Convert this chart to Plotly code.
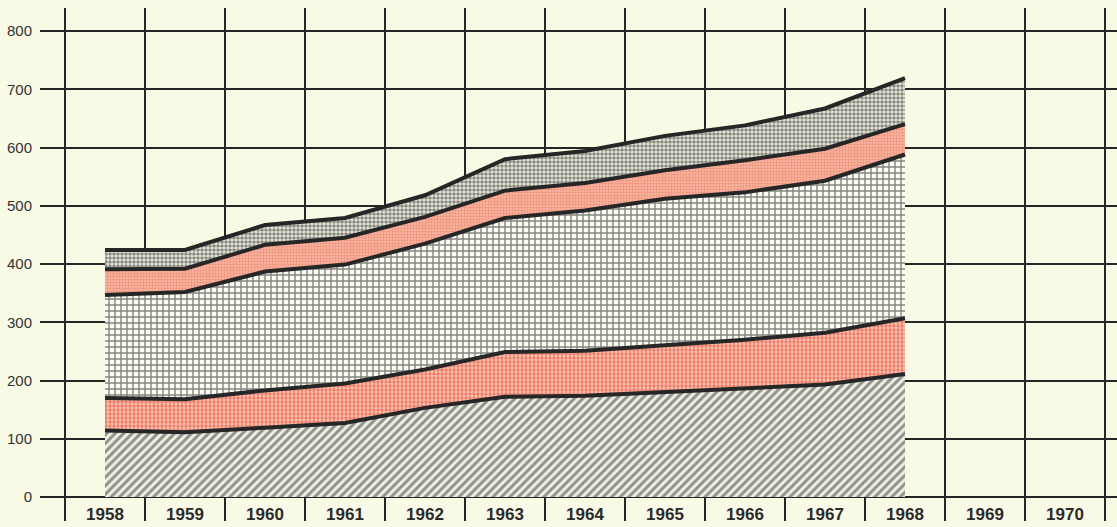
"""Stacked area chart, 1958-1968, five patterned layers on a cream grid."""

import plotly.graph_objects as go

_BG = "#F9FAE6"
_INK = "#262626"

years = [1958, 1959, 1960, 1961, 1962, 1963, 1964, 1965, 1966, 1967, 1968]
axis_years = [1958, 1959, 1960, 1961, 1962, 1963, 1964, 1965, 1966, 1967, 1968, 1969, 1970]

# layer thickness, bottom to top
layer_hatch = [114, 111, 119, 127, 153, 172, 174, 180, 186, 193, 211]
layer_red = [56, 57, 64, 68, 66, 77, 77, 80, 84, 89, 96]
layer_grid = [177, 184, 204, 204, 216, 230, 241, 252, 253, 261, 281]
layer_salmon = [44, 40, 46, 46, 46, 47, 47, 49, 55, 55, 52]
layer_dots = [33, 32, 34, 34, 37, 54, 55, 59, 60, 69, 79]

y_ticks = [0, 100, 200, 300, 400, 500, 600, 700, 800]

layers = [
    (layer_hatch, dict(shape="/", fgcolor="#333333", bgcolor="#EFEFE4", size=6, solidity=0.5)),
    (layer_red, dict(shape=".", fgcolor="#E2280E", bgcolor="#FBDCCD", size=4, solidity=0.7)),
    (layer_grid, dict(shape="+", fgcolor="#111111", bgcolor="#FCFCF2", size=6, solidity=0.42)),
    (layer_salmon, dict(shape="+", fgcolor="#E87058", bgcolor="#F7B19C", size=3, solidity=0.35)),
    (layer_dots, dict(shape=".", fgcolor="#262626", bgcolor="#ECEEDF", size=4, solidity=0.65)),
]

fig = go.Figure()
for vals, pattern in layers:
    fig.add_trace(go.Scatter(
        x=years, y=vals,
        stackgroup="one",
        mode="lines",
        line=dict(color=_INK, width=4),
        fillpattern=pattern,
        fillcolor=pattern["bgcolor"],
        hoverinfo="skip",
        showlegend=False,
    ))

boundaries = [y - 0.5 for y in axis_years] + [axis_years[-1] + 0.5]
# 80 px per year, plot area starts 25 px left of first boundary
x0 = 1957.5 - 25 / 80
x1 = x0 + 1077 / 80

fig.update_layout(
    width=1117, height=527,
    margin=dict(l=40, r=0, t=8, b=30),
    paper_bgcolor=_BG, plot_bgcolor=_BG,
    font=dict(family="Liberation Sans, Arial, sans-serif", color="#333333"),
    xaxis=dict(
        range=[x0, x1],
        automargin=False,
        tickmode="array",
        tickvals=axis_years,
        ticktext=[str(y) for y in axis_years],
        ticks="",
        showgrid=False,
        zeroline=False,
        showline=False,
        tickfont=dict(family="Liberation Sans, Arial, sans-serif",
                      size=17, color="#2a2a2a", weight="bold"),
        ticklabelstandoff=5,
        minor=dict(
            tickmode="array",
            tickvals=boundaries,
            ticks="outside",
            ticklen=23,
            tickwidth=1.5,
            tickcolor=_INK,
            showgrid=True,
            gridcolor=_INK,
            gridwidth=1.5,
        ),
    ),
    yaxis=dict(
        range=[0, 839.5],
        automargin=False,
        tickmode="array",
        tickvals=y_ticks,
        ticks="",
        showgrid=True,
        gridcolor=_INK,
        gridwidth=1.5,
        zeroline=True,
        zerolinecolor=_INK,
        zerolinewidth=1.5,
        showline=False,
        tickfont=dict(family="Liberation Sans, Arial, sans-serif", size=15, color="#333333"),
        ticklabelstandoff=7,
    ),
)

# page body has a default 8px margin; drop it so the figure fills the window
fig.write_html(
    "out.html",
    config={"displayModeBar": False},
    post_script="document.body.style.margin='0';document.body.style.background='%s';" % _BG,
)
